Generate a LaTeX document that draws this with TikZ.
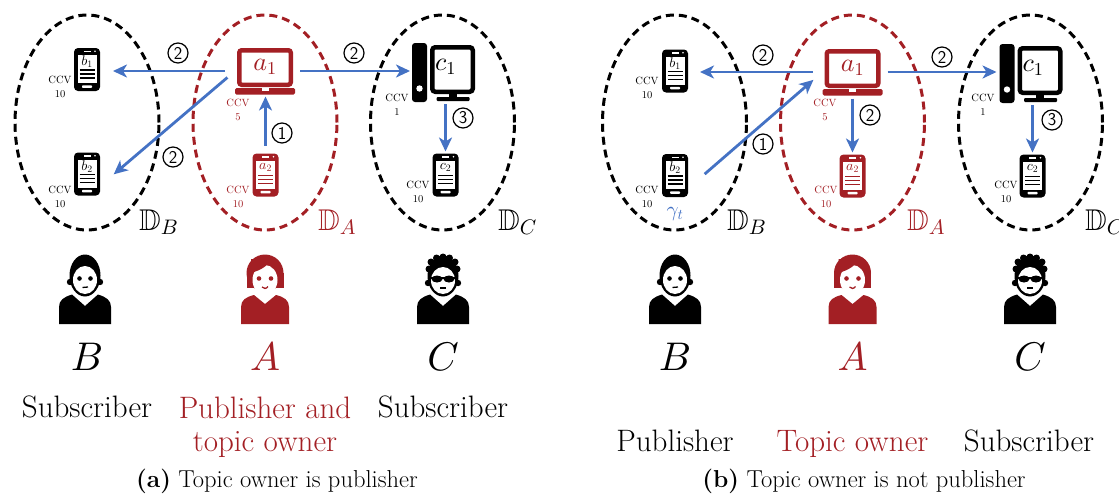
\documentclass[tikz,border=0pt]{standalone}
\usepackage{amssymb}
\usetikzlibrary{arrows.meta,shapes.geometric,calc}
% scalable math fonts for the large symbols
\DeclareFontShape{OML}{cmm}{m}{it}{<->cmmi10}{}
\DeclareFontShape{OT1}{cmr}{m}{n}{<->cmr10}{}
\DeclareFontShape{OMS}{cmsy}{m}{n}{<->cmsy10}{}
\definecolor{ownred}{RGB}{163,31,36}
\definecolor{flowblue}{RGB}{68,114,196}

\tikzset{
  domain/.style={ellipse, draw=#1, line width=3pt, dash pattern=on 8pt off 5pt,
    minimum width=144pt, minimum height=215pt, inner sep=0pt},
  devbox/.style={inner sep=0pt, outer sep=0pt},
  phonebox/.style={devbox, minimum width=26pt, minimum height=43pt},
  laptopbox/.style={devbox, minimum width=60pt, minimum height=47pt},
  deskbox/.style={devbox, minimum width=63pt, minimum height=59pt},
  personbox/.style={devbox, minimum width=52pt, minimum height=70pt},
  flow/.style={draw=flowblue, line width=2.8pt, -{Stealth[length=14pt,width=13pt,inset=4pt]}},
  stepnum/.style={circle, draw, line width=1.2pt, minimum size=20pt, inner sep=0pt,
    font=\fontsize{18}{18}\sffamily},
  ccv/.style={align=center, font=\fontsize{10.5}{14}\selectfont, inner sep=0pt},
  dom label/.style={anchor=base west, inner sep=0pt, font=\fontsize{30}{30}\selectfont},
  who/.style={inner sep=0pt, font=\fontsize{40}{40}\selectfont},
  role/.style={anchor=base, inner sep=0pt, align=center, font=\fontsize{31}{33}\selectfont},
  caption/.style={anchor=base, inner sep=0pt, font=\fontsize{24.5}{24.5}\selectfont},
  % smartphone icon: colour, screen label
  pics/phone/.style 2 args={code={
    \fill[#1, rounded corners=4pt] (-13,-21.5) rectangle (13,21.5);
    \fill[white] (-9.5,-14.5) rectangle (9.5,13.5);
    \fill[white] (-3.5,-19) rectangle (3.5,-17.3);
    \fill[white] (8,-18.2) circle (0.9pt);
    \fill[white, rounded corners=0.8pt] (-5,15.8) rectangle (5,18.3);
    \node[text=#1, inner sep=0pt, font=\fontsize{14}{14}\selectfont] at (0,-7.5) {$#2$};
    \draw[#1, line width=1.3pt] (-7.5,0.5) -- (7.5,0.5) (-7.5,4.5) -- (7.5,4.5) (-7.5,8.5) -- (7.5,8.5);
  }},
  % laptop icon
  pics/laptop/.style 2 args={code={
    \draw[#1, line width=4.5pt, rounded corners=2.5pt] (-25.75,-20.75) rectangle (25.75,13.75);
    \fill[#1, rounded corners=1.5pt] (-30,17) rectangle (30,23.5);
    \fill[white] (-3.5,17) rectangle (3.5,19.5);
    \node[text=#1, inner sep=0pt, font=\fontsize{26}{26}\selectfont] at (0,-4.5) {$#2$};
  }},
  % desktop computer icon: tower and monitor
  pics/desktop/.style 2 args={code={
    \fill[#1, rounded corners=3pt] (-31.5,-29.5) rectangle (-16.5,29.5);
    \fill[white] (-24,16) circle (3.2pt);
    \draw[#1, line width=4.5pt, rounded corners=3pt] (-11.25,-25.25) rectangle (29.25,19.25);
    \fill[#1] (5,21.5) rectangle (13,24.5);
    \fill[#1, rounded corners=1pt] (-7,24.5) rectangle (26,28.5);
    \node[text=#1, inner sep=0pt, font=\fontsize{26}{26}\selectfont] at (2,-6) {$#2$};
  }},
  % person icons
  pics/man/.style={code={
    \fill[#1] (-26,35) -- (-26,18) .. controls (-26,11) and (-21,8) .. (-13,5.5) -- (0,17)
      -- (13,5.5) .. controls (21,8) and (26,11) .. (26,18) -- (26,35) -- cycle;
    \fill[#1] (0,-13.5) ellipse [x radius=15.5, y radius=21];
    \fill[#1] (-15,-7) circle (3.2pt) (15,-7) circle (3.2pt);
    \fill[white] (0,-9) ellipse [x radius=12, y radius=14];
    \fill[#1] (-5.5,-10.5) circle (2.3pt) (5.5,-10.5) circle (2.3pt);
    \draw[#1, line width=1.3pt] (-2.5,-1.5) -- (3,-2);
  }},
  pics/woman/.style={code={
    \fill[#1] (-24,35) -- (-24,18) .. controls (-24,11) and (-19,8) .. (-11,6) -- (0,15)
      -- (11,6) .. controls (19,8) and (24,11) .. (24,18) -- (24,35) -- cycle;
    \fill[#1] (0,-16) circle (18.5pt);
    \fill[#1] (-18.5,-16) rectangle (18.5,-1);
    \fill[white] (0,-9) ellipse [x radius=12.5, y radius=15];
    \fill[#1] (-14,-16) .. controls (-4,-19) and (3,-23) .. (6,-30) -- (-14,-30) -- cycle;
    \fill[#1] (-6,-10.5) circle (2.3pt) (6,-10.5) circle (2.3pt);
    \draw[#1, line width=1.3pt] (-3,-2) .. controls (-1,0) and (1,0) .. (3,-2.5);
  }},
  pics/shades/.style={code={
    \fill[#1] (-26,35) -- (-26,18) .. controls (-26,11) and (-21,8) .. (-13,5.5) -- (0,17)
      -- (13,5.5) .. controls (21,8) and (26,11) .. (26,18) -- (26,35) -- cycle;
    \fill[#1] (0,-13) ellipse [x radius=15.5, y radius=20.5];
    \foreach \cx/\cy in {-14/-20,-12/-27,-6.5/-31,0/-32,6.5/-31,12/-27,14/-20}
      \fill[#1] (\cx,\cy) circle (3.5pt);
    \fill[#1] (-15,-6) circle (3.2pt) (15,-6) circle (3.2pt);
    \fill[white] (0,-8.5) ellipse [x radius=12, y radius=13.5];
    \fill[#1] (-6,-10) ellipse [x radius=5.5, y radius=3.5] (6,-10) ellipse [x radius=5.5, y radius=3.5];
    \draw[#1, line width=1.5pt] (-12,-11) -- (12,-11);
    \draw[#1, line width=1.3pt] (-3,-1) -- (3,-1);
  }},
}

\begin{document}
\begin{tikzpicture}[x=1pt, y=-1pt]
\useasboundingbox (0,0) rectangle (1119,493);

% ---------------- (a) topic owner is publisher ----------------
\node[domain=black]  (DB) at (87,122.5) {};
\node[domain=ownred] (DA) at (265,122.5) {};
\node[domain=black]  (DC) at (442.5,122.5) {};
\node[dom label] (lDB) at (139,230) {$\mathbb{D}_B$};
\node[dom label, text=ownred] (lDA) at (318,230) {$\mathbb{D}_A$};
\node[dom label] (lDC) at (498,230) {$\mathbb{D}_C$};

\node[phonebox] (b1) at (87,69.5) {};   \pic at (b1) {phone={black}{b_1}};
\node[phonebox] (b2) at (87,174) {};    \pic at (b2) {phone={black}{b_2}};
\node[laptopbox] (a1) at (265,71) {};   \pic at (a1) {laptop={ownred}{a_1}};
\node[phonebox] (a2) at (265.5,175) {}; \pic at (a2) {phone={ownred}{a_2}};
\node[deskbox] (c1) at (443.5,72.5) {}; \pic at (c1) {desktop={black}{c_1}};
\node[phonebox] (c2) at (445.5,175) {}; \pic at (c2) {phone={black}{c_2}};

\node[ccv] (kb1) at (60,87) {CCV\\10};
\node[ccv] (kb2) at (60,197) {CCV\\10};
\node[ccv, text=ownred] (ka1) at (238,110) {CCV\\5};
\node[ccv, text=ownred] (ka2) at (238,197) {CCV\\10};
\node[ccv] (kc1) at (397,105) {CCV\\1};
\node[ccv] (kc2) at (418,192) {CCV\\10};

\draw[flow, shorten <=10pt, shorten >=13pt] (a1.west) -- (a1.west -| b1.east);
\draw[flow, shorten <=10pt, shorten >=18pt] (a1.west) -- ($(b2.east)+(0,12)$);
\draw[flow, shorten <=5pt, shorten >=2pt] (a1.east) -- (a1.east -| c1.west);
\draw[flow, shorten <=8pt, shorten >=2pt] (a2.north) -- (a2.north |- a1.south);
\draw[flow, shorten <=2pt, shorten >=2pt] (c1.south -| c2.north) -- (c2.north);

\node[stepnum] (sa1) at (178,53) {2};
\node[stepnum] (sa2) at (173,157) {2};
\node[stepnum] (sa3) at (354,53) {2};
\node[stepnum] (sa4) at (282,133) {1};
\node[stepnum] (sa5) at (463,118) {3};

\node[personbox] (pB) at (85,289) {}; \pic at (pB) {man=black};
\node[personbox] (pA) at (265,289) {}; \pic at (pA) {woman=ownred};
\node[personbox] (pC) at (443,289) {}; \pic at (pC) {shades=black};

\node[who] (nB) at (87,357) {$B$};
\node[who, text=ownred] (nA) at (265,357) {$A$};
\node[who] (nC) at (443,357) {$C$};

\node[role] (rB) at (87,417) {Subscriber};
\node[role, text=ownred] (rA) at (265,451) {Publisher and\\topic owner};
\node[role] (rC) at (443,417) {Subscriber};

\node[caption] (capa) at (277,487) {\textbf{(a)} Topic owner is publisher};

% ---------------- (b) topic owner is not publisher ----------------
\node[domain=black]  (EB) at (674.5,122.5) {};
\node[domain=ownred] (EA) at (852.5,122.5) {};
\node[domain=black]  (EC) at (1030.5,122.5) {};
\node[dom label] (lEB) at (727,230) {$\mathbb{D}_B$};
\node[dom label, text=ownred] (lEA) at (907,230) {$\mathbb{D}_A$};
\node[dom label] (lEC) at (1085,230) {$\mathbb{D}_C$};

\node[phonebox] (q1) at (675,71) {};     \pic at (q1) {phone={black}{b_1}};
\node[phonebox] (q2) at (675,175.5) {};  \pic at (q2) {phone={black}{b_2}};
\node[laptopbox] (p1) at (852.5,72) {};  \pic at (p1) {laptop={ownred}{a_1}};
\node[phonebox] (p2) at (852.5,176) {};  \pic at (p2) {phone={ownred}{a_2}};
\node[deskbox] (r1) at (1031,73.5) {};   \pic at (r1) {desktop={black}{c_1}};
\node[phonebox] (r2) at (1032.5,176) {}; \pic at (r2) {phone={black}{c_2}};

\node[text=flowblue, inner sep=0pt, font=\fontsize{21}{21}\selectfont] (gt) at (675,214) {$\gamma_t$};

\node[ccv] (kq1) at (647,88) {CCV\\10};
\node[ccv] (kq2) at (647,197) {CCV\\10};
\node[ccv, text=ownred] (kp1) at (825,110) {CCV\\5};
\node[ccv, text=ownred] (kp2) at (826,197) {CCV\\10};
\node[ccv] (kr1) at (983,105) {CCV\\1};
\node[ccv] (kr2) at (1006,192) {CCV\\10};

\draw[flow, shorten <=10pt, shorten >=12pt] (p1.west) -- (p1.west -| q1.east);
\draw[flow, shorten <=22pt, shorten >=12pt] ($(q2.east)+(0,13)$) -- (p1.west);
\draw[flow, shorten <=5pt, shorten >=3pt] (p1.east) -- (p1.east -| r1.west);
\draw[flow, shorten <=3pt, shorten >=2pt] (p1.south) -- (p2.north);
\draw[flow, shorten <=2pt, shorten >=2pt] (r1.south -| r2.north) -- (r2.north);

\node[stepnum] (sb1) at (763,55) {2};
\node[stepnum] (sb2) at (763,144) {1};
\node[stepnum] (sb3) at (870,115) {2};
\node[stepnum] (sb4) at (942,57) {2};
\node[stepnum] (sb5) at (1052,120) {3};

\node[personbox] (uB) at (675,289) {}; \pic at (uB) {man=black};
\node[personbox] (uA) at (852.5,289) {}; \pic at (uA) {woman=ownred};
\node[personbox] (uC) at (1030,289) {}; \pic at (uC) {shades=black};

\node[who] (mB) at (675,357) {$B$};
\node[who, text=ownred] (mA) at (852.5,357) {$A$};
\node[who] (mC) at (1030,357) {$C$};

\node[role] (sB) at (675,451) {Publisher};
\node[role, text=ownred] (sA) at (852.5,451) {Topic owner};
\node[role] (sC) at (1029,451) {Subscriber};

\node[caption] (capb) at (864,487) {\textbf{(b)} Topic owner is not publisher};
\end{tikzpicture}
\end{document}
